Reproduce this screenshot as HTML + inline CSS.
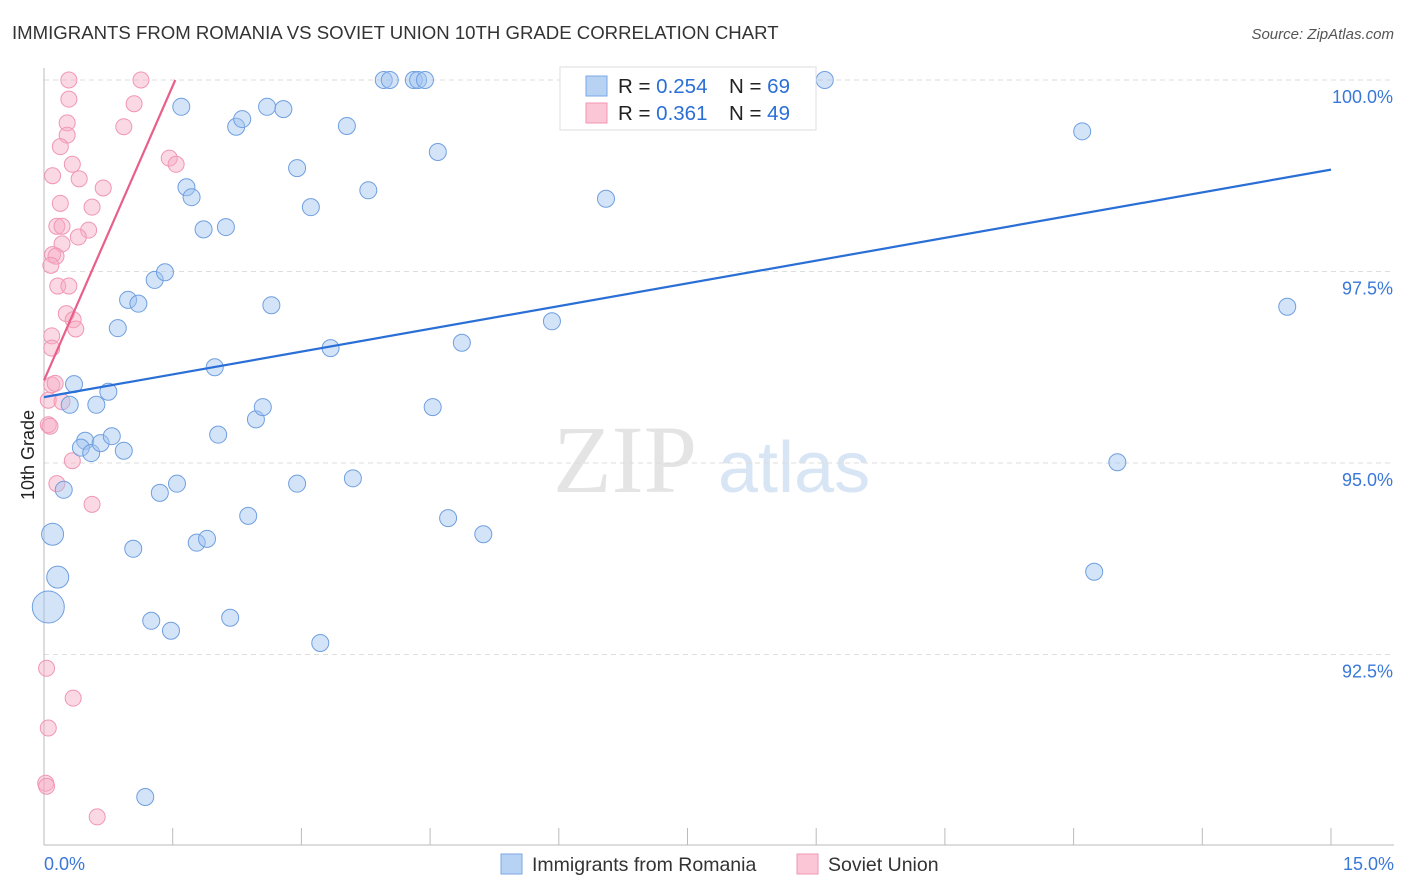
<!DOCTYPE html>
<html><head><meta charset="utf-8"><style>
body{margin:0;background:#fff;font-family:"Liberation Sans",sans-serif;}
svg{display:block}
</style></head><body>
<svg id="c" width="1406" height="892" xmlns="http://www.w3.org/2000/svg">
<text x="12" y="39" font-size="18.6" fill="#333">IMMIGRANTS FROM ROMANIA VS SOVIET UNION 10TH GRADE CORRELATION CHART</text>
<text x="1394" y="39" font-size="15" fill="#555" text-anchor="end" font-style="italic">Source: ZipAtlas.com</text>
<g>
<text x="553" y="492" font-size="96" fill="#e4e4e4" font-family="Liberation Serif,serif">ZIP</text>
<text x="718" y="492" font-size="72" fill="#d8e5f5">atlas</text>
</g>
<text transform="translate(34,455) rotate(-90)" font-size="18" fill="#222" text-anchor="middle">10th Grade</text>
<g id="grid"></g><g id="axes"></g><g id="pts"></g><g id="lines"></g>
<g>
<rect x="560" y="67" width="256" height="63" fill="#fff" stroke="#ddd"/>
<rect x="586" y="76" width="21" height="20" fill="#b8d2f4" stroke="#7aa8e6"/>
<rect x="586" y="103" width="21" height="20" fill="#fbc6d6" stroke="#f096b4"/>
<text x="618" y="93" font-size="20.5" fill="#222">R = <tspan fill="#2a6fd6">0.254</tspan></text>
<text x="729" y="93" font-size="20.5" fill="#222">N = <tspan fill="#2a6fd6">69</tspan></text>
<text x="618" y="120" font-size="20.5" fill="#222">R = <tspan fill="#2a6fd6"> 0.361</tspan></text>
<text x="729" y="120" font-size="20.5" fill="#222">N = <tspan fill="#2a6fd6">49</tspan></text>
</g>
<g>
<rect x="501" y="854" width="21" height="20" fill="#b8d2f4" stroke="#7aa8e6"/>
<text x="532" y="871" font-size="19.5" fill="#333">Immigrants from Romania</text>
<rect x="797" y="854" width="21" height="20" fill="#fbc6d6" stroke="#f096b4"/>
<text x="828" y="871" font-size="19.5" fill="#333">Soviet Union</text>
</g>
</svg>
<script>
const yTicks=[100,97.5,95,92.5];
const yTickLabels=["100.0%","97.5%","95.0%","92.5%"];
const xTickLabels=["0.0%","15.0%"];
const blueX=[.10,.16,.05,.23,.30,.35,.48,.43,.55,.61,.66,.75,.79,.86,.93,.98,1.04,1.10,1.18,1.25,1.29,1.35,1.41,1.48,1.55,1.60,1.66,1.72,1.78,1.86,1.90,1.99,2.03,2.12,2.17,2.24,2.31,2.38,2.47,2.55,2.60,2.65,2.79,2.95,2.95,3.11,3.22,3.34,3.53,3.60,3.78,3.96,4.03,4.31,4.36,4.44,4.53,4.59,4.71,4.87,5.12,5.92,6.35,6.55,9.10,12.10,12.24,12.51,14.49];
const blueY=[94.07,93.51,93.12,94.65,95.76,96.03,95.29,95.20,95.13,95.76,95.26,95.93,95.35,96.76,95.16,97.13,93.88,97.08,90.64,92.94,97.39,94.61,97.49,92.81,94.73,99.65,98.60,98.47,93.96,98.05,94.01,96.25,95.37,98.08,92.98,99.39,99.49,94.31,95.57,95.73,99.65,97.06,99.62,98.85,94.73,98.34,92.65,96.50,99.40,94.80,98.56,100,100,100,100,100,95.73,99.06,94.28,96.57,94.07,96.85,100,98.45,100,99.33,93.58,95.01,97.04];
const blueR=[11,11,16];
const pinkX=[.29,1.13,.29,1.05,.93,.27,.27,.19,1.46,1.54,.33,.10,.41,.69,.19,.56,.15,.21,.52,.40,.21,.10,.14,.08,.16,.29,.26,.34,.37,.09,.09,.09,.13,.05,.21,.05,.07,.33,.15,.56,.03,.34,.05,.02,.03,.62];
const pinkY=[100,100,99.75,99.69,99.39,99.44,99.28,99.13,98.98,98.90,98.90,98.75,98.71,98.59,98.39,98.34,98.09,98.09,98.04,97.95,97.86,97.72,97.70,97.58,97.31,97.31,96.95,96.87,96.75,96.66,96.50,96.02,96.04,95.82,95.80,95.50,95.48,95.03,94.73,94.46,92.32,91.93,91.54,90.82,90.78,90.38];
const blueTrend=[95.86,98.83];
const pinkTrend=[96.08,100];
const pinkTrendX=[0,1.53];
const X=v=>44+v*85.8, Y=v=>80+(100-v)*76.6;
const NS="http://www.w3.org/2000/svg";
function mk(t,a,p){const e=document.createElementNS(NS,t);for(const k in a)e.setAttribute(k,a[k]);p.appendChild(e);return e;}
const grid=document.getElementById('grid'),axes=document.getElementById('axes'),pts=document.getElementById('pts'),lines=document.getElementById('lines');
yTicks.forEach((v,i)=>{
 const l=mk('line',{x1:44,x2:1394,y1:Y(v),y2:Y(v),stroke:'#ddd','stroke-dasharray':'5,4'},grid);
 
 
 const t=mk('text',{x:1393,y:Y(v)+23,'font-size':18,fill:'#3a78d8','text-anchor':'end'},axes);t.textContent=yTickLabels[i];
 
 
});
const xa=mk('line',{x1:44,x2:1394,y1:845,y2:845,stroke:'#bbb'},axes);


const ya=mk('line',{x1:44,x2:44,y1:68,y2:845,stroke:'#bbb'},axes);


for(let i=0;i<=10;i++){const tk=mk('line',{x1:X(i*1.5),x2:X(i*1.5),y1:828,y2:845,stroke:'#bbb'},axes);
 
 }
[[0,'start'],[15,'end']].forEach((o,i)=>{const t=mk('text',{x:i?1394:44,y:870,'font-size':18,fill:'#3a78d8','text-anchor':o[1]},axes);t.textContent=xTickLabels[i];
 
 });
pinkX.forEach((v,i)=>{const c=mk('circle',{cx:X(v),cy:Y(pinkY[i]),r:8,fill:'rgba(246,170,195,0.45)',stroke:'#f096b4','stroke-width':1},pts);
 
 });
blueX.forEach((v,i)=>{const c=mk('circle',{cx:X(v),cy:Y(blueY[i]),r:blueR[i]||8.5,fill:'rgba(160,195,240,0.45)',stroke:'#6f9fe0','stroke-width':1},pts);
 
 });
const bl=mk('line',{x1:X(0),y1:Y(blueTrend[0]),x2:X(15),y2:Y(blueTrend[1]),stroke:'#2a6fd6','stroke-width':2.2},lines);


const pl=mk('line',{x1:X(pinkTrendX[0]),y1:Y(pinkTrend[0]),x2:X(pinkTrendX[1]),y2:Y(pinkTrend[1]),stroke:'#e8608a','stroke-width':2.2},lines);


</script>
</body></html>
